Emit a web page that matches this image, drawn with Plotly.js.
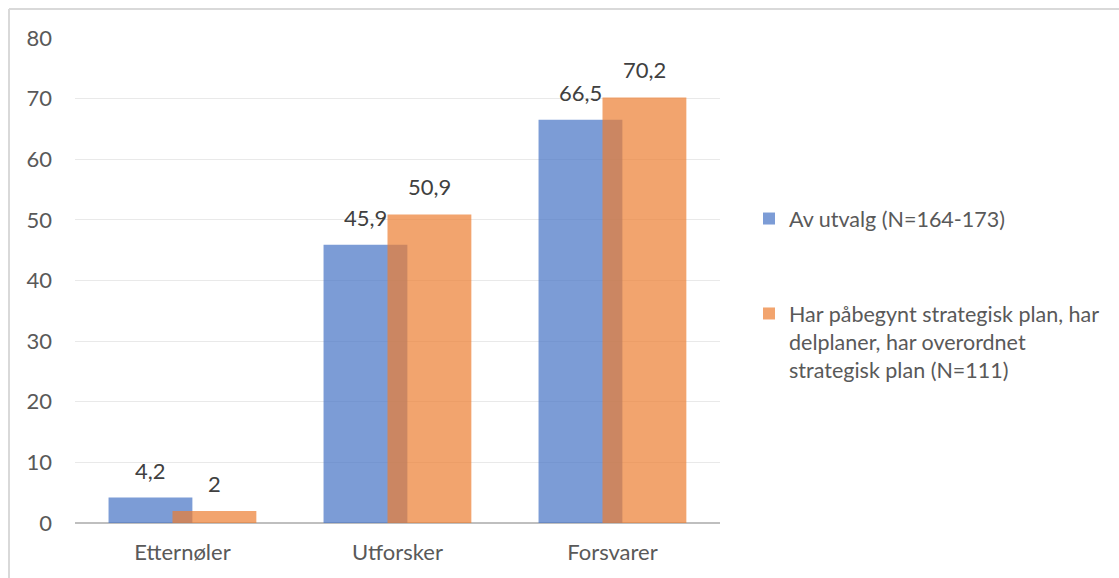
<!DOCTYPE html>
<html>
<head>
<meta charset="utf-8">
<script src="https://cdn.plot.ly/plotly-3.0.1.min.js"></script>
<style>
html,body{margin:0;padding:0;background:#fff;}
#chart{width:1119px;height:578px;}
</style>
</head>
<body>
<div id="chart"></div>
<script>
const categories = ["Etternøler", "Utforsker", "Forsvarer"];
const seriesNames = ["Av utvalg (N=164-173)", "Har påbegynt strategisk plan, har<br>delplaner, har overordnet<br>strategisk plan (N=111)"];
const avUtvalg = [4.2, 45.9, 66.5];
const harPlan = [2, 50.9, 70.2];
const yTicks = [0, 10, 20, 30, 40, 50, 60, 70, 80];

const fmt = v => String(v).replace('.', ',');
const fontFam = 'Lato, "Open Sans", sans-serif';
const barW = 0.39;
const offs = [-0.344, -0.0465];

const traces = [
  {
    type: 'bar', x: categories, y: avUtvalg, name: seriesNames[0],
    width: barW, offset: offs[0],
    marker: {color: 'rgba(68,114,196,0.7)', line: {width: 0}},
    legendgroup: 'a', hoverinfo: 'skip'
  },
  {
    type: 'bar', x: categories, y: harPlan, name: seriesNames[1],
    width: barW, offset: offs[1],
    marker: {color: 'rgba(237,125,49,0.7)', line: {width: 0}},
    legendgroup: 'b', hoverinfo: 'skip'
  }
];

const annotations = [];
[avUtvalg, harPlan].forEach((vals, s) => {
  vals.forEach((v, i) => {
    annotations.push({
      x: i + offs[s] + barW / 2, y: v, xref: 'x', yref: 'y',
      text: fmt(v), showarrow: false, xanchor: 'center', yanchor: 'bottom',
      yshift: 12,
      font: {family: fontFam, size: 22, color: '#404040'}
    });
  });
});

const layout = {
  width: 1119, height: 578,
  margin: {l: 75, r: 399, t: 38, b: 55},
  paper_bgcolor: '#ffffff', plot_bgcolor: '#ffffff',
  barmode: 'overlay',
  font: {family: fontFam, size: 22, color: '#595959'},
  xaxis: {
    type: 'category', showgrid: false, zeroline: false,
    showline: false, ticks: '', ticklabelstandoff: 14,
    tickfont: {family: fontFam, size: 22, color: '#595959'}
  },
  yaxis: {
    range: [0, 80], tickvals: yTicks, ticktext: yTicks.map(String),
    showgrid: true, gridcolor: '#E9E9E9', gridwidth: 1,
    zeroline: true, zerolinecolor: '#BFBFBF', zerolinewidth: 2.5,
    showline: false, ticks: '', ticklabelstandoff: 22,
    tickfont: {family: fontFam, size: 22, color: '#595959'}
  },
  showlegend: true,
  legend: {
    x: 1.045, y: 0.67, xanchor: 'left', yanchor: 'top',
    orientation: 'v', tracegroupgap: 64, valign: 'top',
    font: {family: fontFam, size: 21.5, color: '#595959'},
    itemwidth: 30, bgcolor: 'rgba(0,0,0,0)'
  },
  annotations: annotations,
  shapes: [
    {type: 'line', xref: 'paper', yref: 'paper', x0: -0.1023, x1: 1.7, y0: 1.0598, y1: 1.0598,
     line: {color: '#D9D9D9', width: 2}},
    {type: 'line', xref: 'paper', yref: 'paper', x0: -0.1023, x1: -0.1023, y0: -0.2, y1: 1.0598,
     line: {color: '#D9D9D9', width: 2}}
  ]
};

Plotly.newPlot('chart', traces, layout, {displayModeBar: false, staticPlot: true});
</script>
</body>
</html>
